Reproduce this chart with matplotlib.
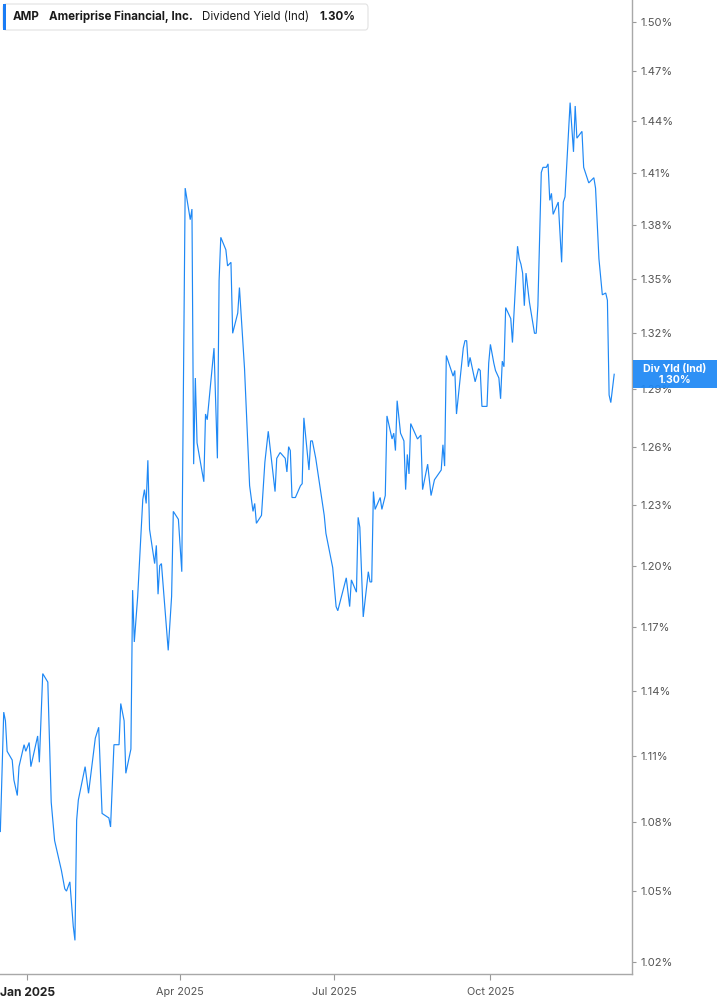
import matplotlib
matplotlib.use('Agg')
import matplotlib.pyplot as plt
import matplotlib.dates as mdates
from matplotlib.ticker import NullLocator, NullFormatter
from matplotlib.patches import FancyBboxPatch, Rectangle
import pandas as pd

plt.rcParams['font.family'] = ['Inter', 'DejaVu Sans']

# ---------------- data ----------------
base_date = '2025-01-01'
day_offsets = [
    -16, -14, -13, -12, -9, -8, -6, -5, -2, -1, 1, 2, 6, 7, 9, 12, 14, 16, 20, 22,
    23, 25, 27, 28, 29, 30, 34, 36, 40, 42, 44, 48, 49, 51, 54, 55, 57, 58, 61,
    62, 63, 65, 68, 69, 70, 71, 72, 75, 76, 77, 78, 79, 83, 85, 86, 89, 91, 93,
    96, 97, 98, 99, 100, 104, 105, 106, 110, 112, 113, 114, 117, 118, 120, 121,
    124, 125, 128, 131, 133, 134, 135,
    138, 140, 142, 146, 147, 149, 152, 153, 154, 155, 156, 158, 159, 161, 162,
    163, 166, 167, 168, 170, 175, 176, 180, 182, 183, 188, 190, 191, 194, 195,
    196, 198, 201, 202, 203, 204, 205, 208,
    209, 211, 212, 215, 216, 217, 218, 220, 222, 223, 224, 225, 226, 230, 232,
    233, 236, 238, 240, 244, 245, 246, 247, 251, 252, 253, 257, 258, 259, 260,
    261, 264, 266, 267, 268, 271, 272, 273, 275, 276, 278, 279, 280, 281, 282,
    285, 286, 289, 290, 291, 292, 293, 294, 296, 299, 300, 301,
    303, 304, 306, 307, 308, 309, 310, 313, 315, 316, 317, 320, 322, 323, 324,
    327, 328, 331, 334, 335, 337, 339, 341, 342, 343, 344, 346,
]
yield_pct = [
    1.076, 1.130, 1.126, 1.112, 1.108, 1.099, 1.092, 1.105, 1.115, 1.112, 1.116,
    1.105, 1.119, 1.107, 1.148, 1.144, 1.089, 1.072, 1.059, 1.051,
    1.050, 1.054, 1.035, 1.029, 1.081, 1.090, 1.105, 1.093, 1.118, 1.123, 1.084,
    1.082, 1.078, 1.115, 1.115, 1.134, 1.126, 1.102, 1.113,
    1.188, 1.163, 1.185, 1.233, 1.238, 1.231, 1.253, 1.218, 1.201, 1.210, 1.186,
    1.200, 1.201, 1.159, 1.185, 1.227, 1.223, 1.197, 1.401,
    1.383, 1.389, 1.251, 1.296, 1.262, 1.242, 1.277, 1.274, 1.312, 1.254, 1.349,
    1.373, 1.366, 1.357, 1.359, 1.320,
    1.331, 1.345, 1.301, 1.240, 1.227, 1.231, 1.221,
    1.225, 1.252, 1.268, 1.237, 1.254, 1.257, 1.254, 1.247, 1.260, 1.258, 1.234,
    1.234, 1.236, 1.240, 1.241,
    1.275, 1.248, 1.263, 1.263, 1.254, 1.225, 1.216, 1.199, 1.180, 1.178, 1.194,
    1.180, 1.193, 1.187, 1.224,
    1.219, 1.175, 1.197, 1.192, 1.192, 1.237, 1.228, 1.234,
    1.228, 1.235, 1.276, 1.264, 1.267, 1.258, 1.284, 1.267, 1.263, 1.238, 1.256,
    1.246, 1.272, 1.264, 1.266,
    1.238, 1.251, 1.235, 1.243, 1.248, 1.261, 1.250, 1.308, 1.297, 1.300, 1.277,
    1.312, 1.316, 1.316, 1.302,
    1.307, 1.294, 1.301, 1.300, 1.281, 1.281, 1.304, 1.314, 1.304, 1.300, 1.296,
    1.285, 1.305, 1.302, 1.334,
    1.328, 1.315, 1.368, 1.361, 1.358, 1.353, 1.335, 1.353, 1.337, 1.320, 1.320,
    1.335,
    1.410, 1.413, 1.413, 1.415, 1.394, 1.398, 1.386, 1.393, 1.359, 1.393, 1.396,
    1.451, 1.422, 1.449, 1.430,
    1.434, 1.413, 1.404, 1.407, 1.401, 1.361, 1.341, 1.342, 1.338, 1.287, 1.283,
    1.298,
]
ytick_values = [1.02, 1.05, 1.08, 1.11, 1.14, 1.17, 1.20, 1.23, 1.26, 1.29,
                1.32, 1.35, 1.38, 1.41, 1.44, 1.47, 1.50]
xtick_dates = ['2025-01-01', '2025-04-01', '2025-07-01', '2025-10-01']
xtick_labels = ['Jan 2025', 'Apr 2025', 'Jul 2025', 'Oct 2025']
ticker = 'AMP'
company = 'Ameriprise Financial, Inc.'
metric = 'Dividend Yield (Ind)'
last_value_text = '1.30%'
badge_title = 'Div Yld (Ind)'

dates = pd.Timestamp(base_date) + pd.to_timedelta(day_offsets, unit='D')

# ---------------- figure ----------------
W, H = 717, 1005
fig = plt.figure(figsize=(W / 100, H / 100), dpi=100)
fig.patch.set_facecolor('white')

def fx(px):
    return px / W

def fy(py):
    return 1 - py / H

ax = fig.add_axes([0, fy(974), fx(632), 974 / H])
LINE = '#1e88f5'
ax.plot(dates, yield_pct, color=LINE, lw=0.85, solid_joinstyle='miter')

ax.set_yscale('log')
ax.set_ylim(1.0149, 1.5134)
ax.set_xlim(pd.Timestamp(base_date) + pd.Timedelta(days=-16.2),
            pd.Timestamp(base_date) + pd.Timedelta(days=356.5))

ax.yaxis.tick_right()
ax.set_yticks(ytick_values)
ax.set_yticklabels([f'{v:.2f}%' for v in ytick_values])
ax.yaxis.set_minor_locator(NullLocator())
ax.yaxis.set_minor_formatter(NullFormatter())

ax.set_xticks(pd.to_datetime(xtick_dates))
ax.set_xticklabels(xtick_labels)
ax.xaxis.set_minor_locator(NullLocator())

for s in ['top', 'left']:
    ax.spines[s].set_visible(False)
for s in ['right', 'bottom']:
    ax.spines[s].set_color('#a8a8a8')
    ax.spines[s].set_linewidth(1.0)

ax.tick_params(axis='y', which='major', length=3, width=0.8, color='#999999',
               labelsize=8, labelcolor='#555555', pad=3)
ax.tick_params(axis='x', which='major', length=4, width=0.8, color='#999999',
               labelsize=7.8, labelcolor='#555555', pad=5)
xl = ax.get_xticklabels()
xl[0].set_fontweight('bold')
xl[0].set_fontsize(8.7)
xl[0].set_color('#222222')

# ---------------- last value badge ----------------
fig.canvas.draw()
xnum = mdates.date2num(dates[-1])
_, yc_disp = ax.transData.transform((xnum, yield_pct[-1]))
yc = H - yc_disp  # pixel from top
badge = Rectangle((fx(633), fy(yc + 14)), fx(717) - fx(633), (28) / H,
                  transform=fig.transFigure, facecolor='#1e88f5', alpha=0.93,
                  edgecolor='none', zorder=5)
fig.patches.append(badge)
fig.text(fx(675), fy(yc - 5), badge_title, color='white', fontsize=7.6,
         fontweight='bold', ha='center', va='center', zorder=6)
fig.text(fx(675), fy(yc + 6), last_value_text, color='white', fontsize=7.6,
         fontweight='bold', ha='center', va='center', zorder=6)

# ---------------- header ----------------
hdr = FancyBboxPatch((fx(3), fy(30)), fx(368) - fx(3), 26 / H,
                     boxstyle='round,pad=0,rounding_size=0.004',
                     transform=fig.transFigure, facecolor='white',
                     edgecolor='#e2e2e2', linewidth=0.8, zorder=3)
fig.patches.append(hdr)
bar = Rectangle((fx(3), fy(30)), fx(3), 26 / H, transform=fig.transFigure,
                facecolor='#1a7cf5', edgecolor='none', zorder=4)
fig.patches.append(bar)
hy = fy(17)
fig.text(fx(13), hy, ticker, fontsize=8.3, fontweight='bold', color='#1a1a1a',
         ha='left', va='center', zorder=5)
fig.text(fx(49), hy, company, fontsize=8.3, fontweight='bold', color='#1a1a1a',
         ha='left', va='center', zorder=5)
fig.text(fx(202), hy, metric, fontsize=8.3, color='#1a1a1a',
         ha='left', va='center', zorder=5)
fig.text(fx(319), hy, last_value_text, fontsize=8.3, fontweight='bold',
         color='#1a1a1a', ha='left', va='center', zorder=5)

fig.savefig('out.png', dpi=100, facecolor='white')
